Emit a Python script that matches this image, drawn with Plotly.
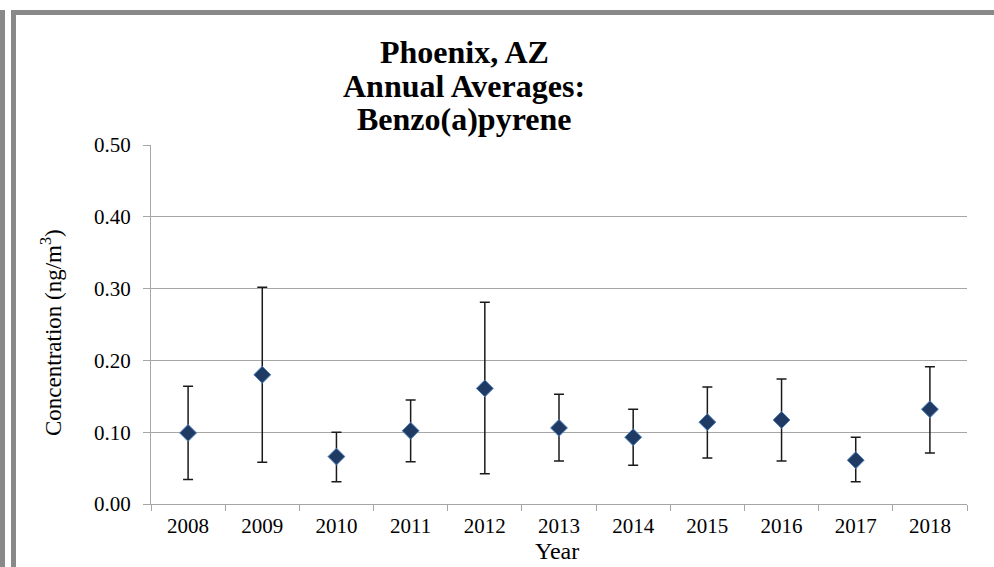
import plotly.graph_objects as go

years = ["2008", "2009", "2010", "2011", "2012", "2013", "2014", "2015", "2016", "2017", "2018"]
mean_conc = [0.099, 0.180, 0.066, 0.102, 0.161, 0.106, 0.093, 0.114, 0.117, 0.061, 0.132]
upper_ci = [0.164, 0.302, 0.100, 0.145, 0.281, 0.153, 0.132, 0.163, 0.174, 0.093, 0.191]
lower_ci = [0.034, 0.058, 0.031, 0.059, 0.042, 0.060, 0.054, 0.064, 0.060, 0.031, 0.071]
y_ticks = [0.0, 0.1, 0.2, 0.3, 0.4, 0.5]

err_plus = [u - m for u, m in zip(upper_ci, mean_conc)]
err_minus = [m - l for m, l in zip(mean_conc, lower_ci)]

W, H = 994, 567
L, R, T, B = 151, 27, 145, 63
PW, PH = W - L - R, H - T - B

def px(x):
    return (x - L) / PW

def py(y):
    return (H - B - y) / PH

SERIF = "Liberation Serif, Times New Roman, serif"

fig = go.Figure()
fig.add_trace(go.Scatter(
    x=years, y=mean_conc, mode="markers",
    marker=dict(symbol="diamond", size=13, color="#1f3b63",
                line=dict(color="#4f81bd", width=1)),
    error_y=dict(type="data", symmetric=False, array=err_plus, arrayminus=err_minus,
                 color="#1a1a1a", thickness=1.5, width=5),
    showlegend=False,
))

grid = "#a6a6a6"
fig.update_xaxes(
    type="category", range=[-0.5, len(years) - 0.5],
    showline=True, linecolor=grid, linewidth=1,
    ticks="outside", tickson="boundaries", ticklen=6, tickcolor=grid,
    ticklabelstandoff=3,
    showgrid=False, tickfont=dict(family=SERIF, size=21, color="#000"),
)
fig.update_yaxes(
    range=[0, 0.5], tickvals=y_ticks, tickformat=".2f",
    showline=True, linecolor=grid, linewidth=1,
    ticks="outside", ticklen=7, tickcolor=grid,
    ticklabelstandoff=8,
    showgrid=True, gridcolor=grid, gridwidth=1, zeroline=False,
    tickfont=dict(family=SERIF, size=21, color="#000"),
)

annots = []
title_lines = ["Phoenix, AZ", "Annual Averages:", "Benzo(a)pyrene"]
title_y = [52, 86, 119]
for t, yy in zip(title_lines, title_y):
    annots.append(dict(text="<b>%s</b>" % t, x=px(464), y=py(yy), xref="paper", yref="paper",
                       xanchor="center", yanchor="middle", showarrow=False,
                       font=dict(family=SERIF, size=32, color="#000")))
annots.append(dict(text="Concentration (ng/m<sup>3</sup>)", x=px(51), y=py(333),
                   xref="paper", yref="paper", textangle=-90, showarrow=False,
                   xanchor="center", yanchor="middle",
                   font=dict(family=SERIF, size=23, color="#000")))
annots.append(dict(text="Year", x=px(557), y=py(551), xref="paper", yref="paper",
                   showarrow=False, xanchor="center", yanchor="middle",
                   font=dict(family=SERIF, size=24, color="#000")))

frame = "#898989"
shapes = [
    dict(type="rect", xref="paper", yref="paper", x0=px(0), x1=px(5), y0=py(575), y1=py(10),
         fillcolor=frame, line=dict(width=0)),
    dict(type="rect", xref="paper", yref="paper", x0=px(11), x1=px(16), y0=py(575), y1=py(10),
         fillcolor=frame, line=dict(width=0)),
    dict(type="rect", xref="paper", yref="paper", x0=px(11), x1=px(1000), y0=py(15), y1=py(10),
         fillcolor=frame, line=dict(width=0)),
]

fig.update_layout(
    width=W, height=H,
    margin=dict(l=L, r=R, t=T, b=B),
    paper_bgcolor="white", plot_bgcolor="white",
    annotations=annots, shapes=shapes,
)

fig.write_html("out.html", config={"displayModeBar": False},
               post_script="document.body.style.margin='0';document.body.style.overflow='hidden';")
